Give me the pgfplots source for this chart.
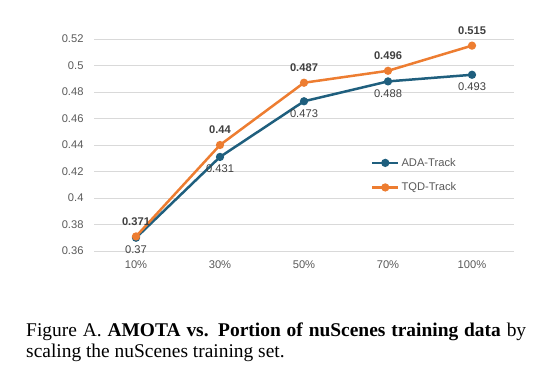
\documentclass[border=0pt]{standalone}
\usepackage{pgfplots}
\pgfplotsset{compat=1.18}
\usepackage{fontspec}
\setmainfont{Liberation Serif}
\newfontfamily\chartfont{Liberation Sans}
\definecolor{adablue}{HTML}{1F5F7E}
\definecolor{tqdorange}{HTML}{ED7D31}
\definecolor{ticklab}{HTML}{595959}
\definecolor{datalab}{HTML}{404040}
\definecolor{gridc}{HTML}{D9D9D9}
\begin{document}
\begin{tikzpicture}[x=1bp,y=1bp]
\useasboundingbox (0,0) rectangle (543,382);
\begin{axis}[
  at={(94bp,131bp)}, anchor=south west,
  scale only axis, width=420bp, height=212bp,
  xmin=-0.5, xmax=4.5, ymin=0.36, ymax=0.52,
  xtick={0,1,2,3,4}, xticklabels={10\%,30\%,50\%,70\%,100\%},
  ytick={0.36,0.38,0.40,0.42,0.44,0.46,0.48,0.50,0.52},
  yticklabels={0.36,0.38,0.4,0.42,0.44,0.46,0.48,0.5,0.52},
  axis line style={draw=none}, major tick length=0,
  ymajorgrids, grid style={gridc, line width=0.9bp},
  tick label style={font=\chartfont\fontsize{11.2}{13}\selectfont, text=ticklab},
  yticklabel style={xshift=-7bp},
  xticklabel style={yshift=-6bp},
  legend style={at={(0.652,0.458)}, anchor=north west, draw=none, fill=none,
    font=\chartfont\fontsize{11.2}{13}\selectfont, text=ticklab, row sep=11bp},
  legend cell align=left,
  legend image code/.code={\draw[mark repeat=2,mark phase=2,#1] plot coordinates {(0bp,0bp) (13bp,0bp) (26bp,0bp)};},
  clip=false,
]
\addplot[adablue, line width=2.5bp, mark=*, mark size=2.8bp, mark options={solid, fill=adablue},
  nodes near coords, point meta=explicit symbolic,
  every node near coord/.append style={anchor=center, yshift=-12bp, font=\chartfont\fontsize{11.2}{13}\selectfont, text=datalab}]
  coordinates {(0,0.370) [0.37] (1,0.431) [0.431] (2,0.473) [0.473] (3,0.488) [0.488] (4,0.493) [0.493]};
\addlegendentry{ADA-Track}
\addplot[tqdorange, line width=2.5bp, mark=*, mark size=2.8bp, mark options={solid, fill=tqdorange},
  nodes near coords, point meta=explicit symbolic,
  every node near coord/.append style={anchor=center, yshift=15bp, font=\chartfont\bfseries\fontsize{11.2}{13}\selectfont, text=datalab}]
  coordinates {(0,0.371) [0.371] (1,0.440) [0.44] (2,0.487) [0.487] (3,0.496) [0.496] (4,0.515) [0.515]};
\addlegendentry{TQD-Track}
\end{axis}
\node[anchor=base west, text width=500bp, align=justify, inner sep=0pt,
  font=\fontsize{19.5}{22}\selectfont] at (26bp,46bp)
  {Figure A. \textbf{AMOTA vs. Portion of nuScenes training data} by scaling the nuScenes training set.};
\end{tikzpicture}
\end{document}
